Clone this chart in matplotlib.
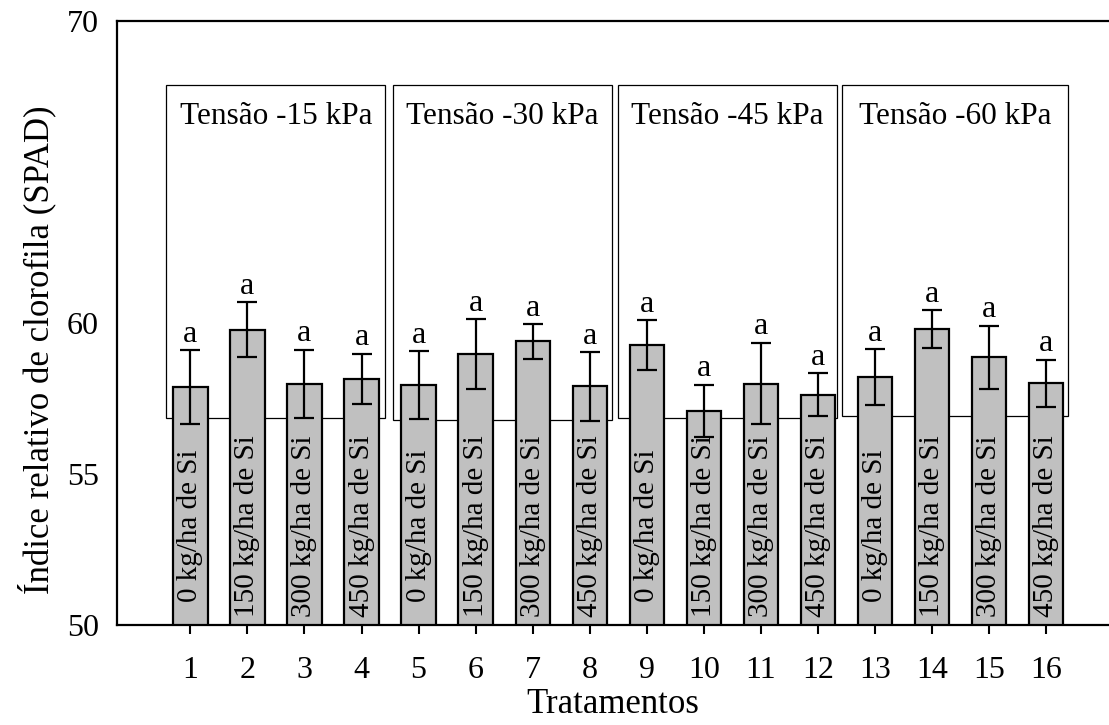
import matplotlib
matplotlib.use('Agg')
import matplotlib.pyplot as plt
from matplotlib.patches import Rectangle

plt.rcParams['font.family'] = ['Liberation Serif', 'DejaVu Serif']
plt.rcParams['font.size'] = 23

tratamentos = list(range(1, 17))
spad = [57.87, 59.77, 57.98, 58.15, 57.95, 58.97, 59.39, 57.90,
        59.27, 57.09, 57.99, 57.62, 58.21, 59.79, 58.86, 58.01]
erro = [1.22, 0.91, 1.13, 0.84, 1.12, 1.15, 0.57, 1.14,
        0.83, 0.87, 1.35, 0.71, 0.93, 0.63, 1.05, 0.78]
letras = ['a'] * 16
doses = ['0 kg/ha de Si', '150 kg/ha de Si', '300 kg/ha de Si', '450 kg/ha de Si'] * 4

tensoes = ['Tensão -15 kPa', 'Tensão -30 kPa', 'Tensão -45 kPa', 'Tensão -60 kPa']
caixa_x0 = [0.58, 4.55, 8.50, 12.43]
caixa_x1 = [4.42, 8.40, 12.34, 16.38]
caixa_y0 = [56.86, 56.79, 56.86, 56.91]
caixa_y1 = 67.88

fig = plt.figure(figsize=[11.09, 7.25], dpi=100)
ax = fig.add_axes([117/1109, 100/725, 1 - 117/1109, 604/725])

for i in range(4):
    ax.add_patch(Rectangle((caixa_x0[i], caixa_y0[i]), caixa_x1[i] - caixa_x0[i],
                           caixa_y1 - caixa_y0[i], facecolor='white',
                           edgecolor='black', linewidth=0.9, zorder=1))
    ax.text((caixa_x0[i] + caixa_x1[i]) / 2, 66.85, tensoes[i],
            ha='center', va='center', fontsize=22.5, zorder=2)

ax.bar(tratamentos, [v - 50 for v in spad], bottom=50, width=0.6,
       color='#c0c0c0', edgecolor='black', linewidth=1.6, zorder=3)
ax.errorbar(tratamentos, spad, yerr=erro, fmt='none', ecolor='black',
            elinewidth=1.6, capsize=7, capthick=1.6, zorder=4)

for x, v, e, l, d in zip(tratamentos, spad, erro, letras, doses):
    ax.text(x, v + e + 0.28, l, ha='center', va='baseline', zorder=5)
    ax.text(x, 53.28, d, rotation=90, ha='center', va='center',
            fontsize=21, zorder=5)

ax.set_xlim(-0.287, 17.105)
ax.set_ylim(50, 70)
ax.set_xticks(tratamentos)
ax.set_yticks([50, 55, 60, 70])
ax.tick_params(axis='x', direction='out', length=6.5, width=1.5, pad=16)
ax.tick_params(axis='y', length=0, pad=13)
for s in ['left', 'top', 'bottom']:
    ax.spines[s].set_linewidth(1.6)
ax.spines['right'].set_visible(False)

ax.set_xlabel('Tratamentos', fontsize=25, labelpad=2)
ax.set_ylabel('Índice relativo de clorofila (SPAD)', fontsize=25)
ax.yaxis.set_label_coords(-0.0615, 0.455)

plt.savefig('out.png', dpi=100)
